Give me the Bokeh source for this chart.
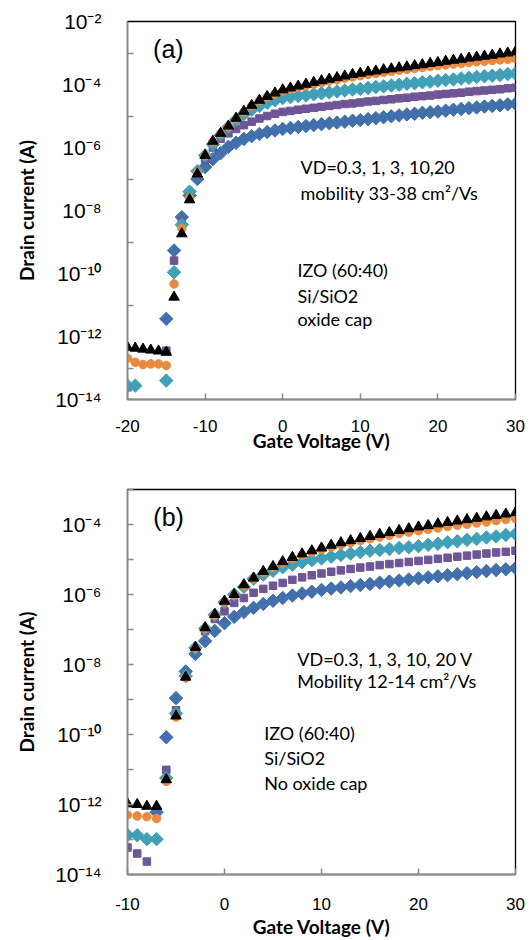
import math
from bokeh.plotting import figure
from bokeh.models import Range1d, FixedTicker, CustomJSTickFormatter, Label
from bokeh.layouts import column
from bokeh.embed import file_html
from bokeh.resources import INLINE

nan = float("nan")

# ---------------- data ----------------
# Panel (a): IZO (60:40), Si/SiO2, oxide cap; log10 of drain current (A)
vg_a = list(range(-20, 31))
log_id_a_vd0p3 = [nan, nan, nan, nan, nan, -11.44, -9.27, -8.21, -7.52, -7.00, -6.62, -6.37, -6.18, -5.98, -5.85, -5.73, -5.64, -5.57, -5.51, -5.46, -5.41,
                  -5.38, -5.35, -5.32, -5.29, -5.26, -5.23, -5.21, -5.18, -5.15, -5.13,
                  -5.10, -5.07, -5.04, -5.01, -4.98, -4.95, -4.93, -4.90, -4.88, -4.86,
                  -4.83, -4.80, -4.78, -4.75, -4.73, -4.70, -4.68, -4.66, -4.63, -4.61]
log_id_a_vd1 = [-13.61, nan, nan, nan, nan, -12.45, -9.59, -8.35, -7.45, -6.85, -6.38, -6.00, -5.72, -5.55, -5.41, -5.29, -5.18, -5.08, -5.00, -4.93, -4.87,
                -4.84, -4.80, -4.77, -4.74, -4.71, -4.68, -4.65, -4.62, -4.60, -4.57,
                -4.54, -4.52, -4.49, -4.47, -4.44, -4.42, -4.39, -4.37, -4.35, -4.32,
                -4.30, -4.28, -4.26, -4.23, -4.21, -4.19, -4.17, -4.15, -4.12, -4.10]
log_id_a_vd3 = [-13.56, -13.56, nan, nan, nan, -13.40, -9.96, -8.45, -7.40, -6.75, -6.25, -5.90, -5.60, -5.35, -5.12, -4.94, -4.80, -4.68, -4.58, -4.50, -4.43,
                -4.40, -4.37, -4.34, -4.31, -4.28, -4.25, -4.22, -4.19, -4.16, -4.14,
                -4.11, -4.08, -4.06, -4.03, -4.01, -3.98, -3.96, -3.93, -3.91, -3.88,
                -3.86, -3.84, -3.81, -3.79, -3.76, -3.74, -3.72, -3.70, -3.67, -3.65]
log_id_a_vd10 = [-12.69, -12.82, -12.89, -12.87, -12.87, -12.92, -10.33, -8.57, -7.60, -6.80, -6.25, -5.82, -5.56, -5.33, -5.09, -4.87, -4.68, -4.52, -4.40, -4.30, -4.21,
                 -4.15, -4.09, -4.04, -3.99, -3.94, -3.89, -3.85, -3.80, -3.76, -3.72,
                 -3.68, -3.65, -3.61, -3.58, -3.55, -3.52, -3.49, -3.46, -3.43, -3.40,
                 -3.38, -3.35, -3.33, -3.30, -3.28, -3.26, -3.24, -3.22, -3.20, -3.18]
log_id_a_vd20 = [-12.34, -12.37, -12.40, -12.43, -12.46, -12.50, -10.75, -8.74, -7.66, -6.84, -6.25, -5.80, -5.55, -5.32, -5.07, -4.85, -4.66, -4.50, -4.38, -4.27, -4.17,
                 -4.11, -4.05, -3.99, -3.93, -3.88, -3.83, -3.78, -3.73, -3.68, -3.64,
                 -3.60, -3.57, -3.53, -3.50, -3.47, -3.44, -3.40, -3.37, -3.33, -3.30,
                 -3.26, -3.23, -3.20, -3.16, -3.13, -3.10, -3.07, -3.03, -3.00, -2.96]

# Panel (b): IZO (60:40), Si/SiO2, no oxide cap
vg_b = list(range(-10, 31))
log_id_b_vd0p3 = [nan, nan, nan, -12.22, -10.08, -8.96, -8.20, -7.70, -7.33, -7.04, -6.82,
                  -6.64, -6.50, -6.38, -6.27, -6.18, -6.10, -6.03, -5.97, -5.92, -5.87,
                  -5.83, -5.80, -5.76, -5.73, -5.70, -5.66, -5.63, -5.60, -5.57, -5.54,
                  -5.51, -5.48, -5.45, -5.42, -5.39, -5.36, -5.33, -5.30, -5.28, -5.25]
log_id_b_vd1 = [-13.23, -13.40, -13.63, nan, -11.01, -9.31, -8.35, -7.55, -7.05, -6.70, -6.48,
                -6.24, -6.10, -5.95, -5.84, -5.75, -5.67, -5.58, -5.51, -5.45, -5.40,
                -5.35, -5.31, -5.27, -5.23, -5.20, -5.16, -5.13, -5.10, -5.07, -5.04,
                -5.01, -4.98, -4.95, -4.92, -4.89, -4.86, -4.83, -4.80, -4.78, -4.75]
log_id_b_vd3 = [-12.87, -12.88, -12.99, -12.99, -11.24, -9.40, -8.33, -7.52, -6.97, -6.58, -6.22,
                -6.00, -5.78, -5.55, -5.43, -5.32, -5.22, -5.15, -5.08, -5.02, -4.97,
                -4.92, -4.87, -4.83, -4.79, -4.75, -4.73, -4.70, -4.67, -4.65, -4.62,
                -4.58, -4.55, -4.51, -4.48, -4.44, -4.41, -4.37, -4.34, -4.30, -4.27]
log_id_b_vd10 = [-12.30, -12.33, -12.35, -12.40, -11.34, -9.50, -8.38, -7.53, -6.97, -6.59, -6.21,
                 -6.02, -5.75, -5.56, -5.37, -5.23, -5.10, -4.98, -4.88, -4.79, -4.71,
                 -4.64, -4.58, -4.52, -4.46, -4.41, -4.36, -4.31, -4.26, -4.22, -4.18,
                 -4.14, -4.10, -4.06, -4.02, -3.99, -3.96, -3.93, -3.89, -3.86, -3.83]
log_id_b_vd20 = [-11.98, -12.00, -12.05, -12.05, -11.29, -9.47, -8.36, -7.51, -6.95, -6.57, -6.19,
                 -6.00, -5.72, -5.53, -5.34, -5.20, -5.06, -4.94, -4.84, -4.75, -4.67,
                 -4.59, -4.52, -4.46, -4.40, -4.34, -4.28, -4.23, -4.17, -4.12, -4.07,
                 -4.03, -3.98, -3.94, -3.90, -3.86, -3.82, -3.78, -3.74, -3.70, -3.66]

x_ticks_a = [-20, -10, 0, 10, 20, 30]
x_labels_a = ["-20", "-10", "0", "10", "20", "30"]
x_ticks_b = [-10, 0, 10, 20, 30]
x_labels_b = ["-10", "0", "10", "20", "30"]
y_label_exps_a = [-2, -4, -6, -8, -10, -12, -14]
y_minor_exps_a = [-3, -5, -7, -9, -11, -13]
y_label_exps_b = [-4, -6, -8, -10, -12, -14]
y_minor_exps_b = [-3, -5, -7, -9, -11, -13]
y_labels_a = ["10⁻²", "10⁻⁴", "10⁻⁶", "10⁻⁸", "10⁻¹⁰", "10⁻¹²", "10⁻¹⁴"]
y_labels_b = ["10⁻⁴", "10⁻⁶", "10⁻⁸", "10⁻¹⁰", "10⁻¹²", "10⁻¹⁴"]

x_title = "Gate Voltage (V)"
y_title = "Drain current (A)"
notes_a = ["VD=0.3, 1, 3, 10,20", "mobility 33-38 cm²/Vs"]
stack_a = ["IZO (60:40)", "Si/SiO2", "oxide cap"]
notes_b = ["VD=0.3, 1, 3, 10, 20 V", "Mobility 12-14 cm²/Vs"]
stack_b = ["IZO  (60:40)", "Si/SiO2", "No oxide cap"]

# ---------------- styles ----------------
colors = ["#4170AD", "#6E5596", "#40A0B8", "#EA8A3E", "#000000"]
markers = ["square", "square", "square", "circle", "triangle"]
angles = [math.pi / 4, 0, math.pi / 4, 0, 0]
sizes = [9.5, 7.5, 9.5, 8.5, 10.5]
AXIS_GRAY = "#8A8A8A"


def make_yfmt(exps, labels):
    return CustomJSTickFormatter(args=dict(exps=exps, labs=labels), code="""
        const e = Math.round(Math.log10(tick));
        const i = exps.indexOf(e);
        return i >= 0 ? labs[i] : "";
    """)


def make_xfmt(tvals, labels):
    return CustomJSTickFormatter(args=dict(tvals=tvals, labs=labels), code="""
        const i = tvals.indexOf(Math.round(tick));
        return i >= 0 ? labs[i] : "";
    """)


def make_panel(vg, logs, xr, yr_exp, x_ticks, x_labels, y_major, y_minor, y_labels, height,
               top, bottom, right, tag, tag_pos, notes, notes_pos, stack, stack_pos,
               y_major_in, x_standoff, title_standoff):
    p = figure(width=531, height=height, x_range=Range1d(*xr),
               y_range=Range1d(10.0 ** yr_exp[0], 10.0 ** yr_exp[1]),
               y_axis_type="log", output_backend="svg", toolbar_location=None,
               min_border_left=127, min_border_right=right,
               min_border_top=top, min_border_bottom=bottom)
    p.grid.visible = False
    p.outline_line_color = "black"
    p.outline_line_width = 1.3
    p.background_fill_color = "white"
    p.border_fill_color = "white"

    for lg, c, m, a, s in zip(logs, colors, markers, angles, sizes):
        ys = [10.0 ** v if v == v else nan for v in lg]
        p.scatter(vg, ys, marker=m, angle=a, size=s, fill_color=c, line_color=c)

    xa = p.xaxis[0]
    ya = p.yaxis[0]
    xa.ticker = FixedTicker(ticks=x_ticks, minor_ticks=[])
    xa.formatter = make_xfmt(x_ticks, x_labels)
    ya.ticker = FixedTicker(ticks=[10.0 ** e for e in y_major],
                            minor_ticks=[10.0 ** e for e in y_minor])
    ya.formatter = make_yfmt(y_major, y_labels)
    for ax in (xa, ya):
        ax.axis_line_color = AXIS_GRAY
        ax.axis_line_width = 1.5
        ax.major_tick_line_color = AXIS_GRAY
        ax.major_tick_line_width = 1.5
        ax.minor_tick_line_color = AXIS_GRAY
        ax.minor_tick_line_width = 1.5
        ax.major_tick_out = 0
        ax.minor_tick_out = 0
        ax.major_label_text_font = "Liberation Sans"
        ax.major_label_text_color = "black"
        ax.axis_label_text_font = "Lato"
        ax.axis_label_text_font_style = "bold"
        ax.axis_label_text_font_size = "19px"
        ax.axis_label_text_color = "black"
    xa.major_tick_in = 6
    xa.major_label_text_font_size = "17px"
    xa.major_label_standoff = x_standoff
    xa.axis_label = x_title
    xa.axis_label_standoff = title_standoff
    ya.major_tick_in = y_major_in
    ya.minor_tick_in = 6
    ya.major_label_text_font_size = "21px"
    ya.major_label_standoff = 26
    ya.axis_label = y_title
    ya.axis_label_standoff = 14

    p.add_layout(Label(x=tag_pos[0], y=10.0 ** tag_pos[1], text=tag,
                       text_font="Liberation Sans", text_font_size="25px",
                       text_baseline="middle", text_color="black"))
    for t, (x, ye) in zip(notes + stack, notes_pos + stack_pos):
        p.add_layout(Label(x=x, y=10.0 ** ye, text=t, text_font="Lato",
                           text_font_size="18px", text_baseline="middle",
                           text_color="black"))
    return p


pa = make_panel(vg_a, [log_id_a_vd0p3, log_id_a_vd1, log_id_a_vd3, log_id_a_vd10, log_id_a_vd20],
                (-20, 30), (-14, -2), x_ticks_a, x_labels_a, y_label_exps_a, y_minor_exps_a, y_labels_a,
                465, 21, 66, 16, "(a)", (-16.7, -2.86),
                notes_a, [(2.3, -6.63), (2.3, -7.43)],
                stack_a, [(1.9, -9.90), (1.9, -10.70), (1.9, -11.46)], 0, 20, -6)
pb = make_panel(vg_b, [log_id_b_vd0p3, log_id_b_vd1, log_id_b_vd3, log_id_b_vd10, log_id_b_vd20],
                (-10, 30), (-14, -3), x_ticks_b, x_labels_b, y_label_exps_b, y_minor_exps_b, y_labels_b,
                475, 24, 63, 13, "(b)", (-7.34, -3.79),
                notes_b, [(7.5, -7.84), (7.5, -8.46)],
                stack_b, [(4.1, -9.97), (4.1, -10.68), (4.1, -11.39)], 6, 23, 2)

layout = column(pa, pb, spacing=0)
open("out.html", "w").write(file_html(layout, INLINE))
